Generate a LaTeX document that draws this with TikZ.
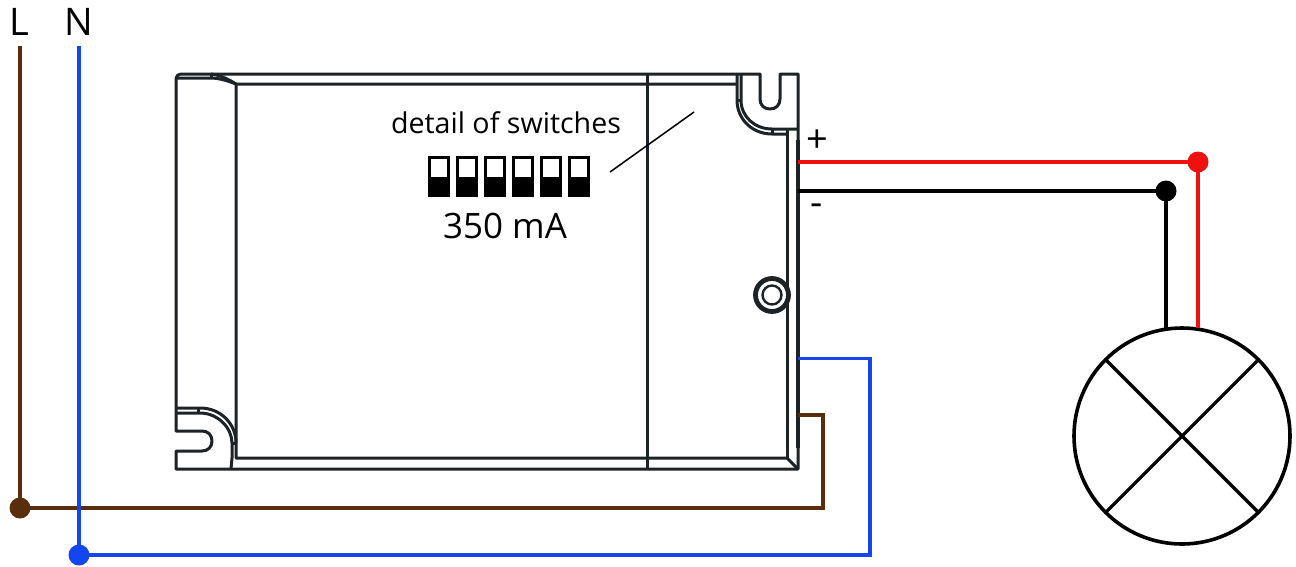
\documentclass[tikz,border=0pt]{standalone}
\usepackage{fontspec}
\setmainfont{Open Sans}
\usetikzlibrary{positioning}

\definecolor{wirebrown}{HTML}{5A2D0C}
\definecolor{wireblue}{HTML}{1446F0}
\definecolor{wirered}{HTML}{F01010}
\definecolor{casing}{HTML}{1C2226}

\tikzset{
        wire/.style={line width=3.2pt, line cap=butt, line join=miter},
        casingline/.style={draw=casing, line width=3pt, line join=round},
        joint/.style={circle, inner sep=0pt, outer sep=0pt, minimum size=21pt},
        terminal/.style={font=\fontsize{38}{38}\selectfont, anchor=base, inner sep=0pt},
        caption/.style={anchor=base, inner sep=0pt},
}

\begin{document}
\begin{tikzpicture}[x=1pt, y=-1pt]
        \useasboundingbox (0, 0) rectangle (1296, 566);

        % driver casing
        \draw [casingline]
               (176, 431) -- (176, 80) .. controls (176, 76) and (178, 74) .. (182, 74)
               -- (760, 74) -- (760, 99)
               .. controls (760, 105) and (764, 109) .. (770, 109)
               .. controls (776, 109) and (780, 105) .. (780, 99)
               -- (780, 74) -- (798, 74) -- (798, 469) -- (176, 469) -- (176, 451)
               -- (202, 451) .. controls (208, 451) and (212, 447) .. (212, 441)
               .. controls (212, 435) and (208, 431) .. (202, 431) -- cycle;
        \draw [casingline, line width=4pt] (798, 140) -- (798, 448);
        \draw [casingline] (176, 78) -- (210, 78) .. controls (220, 78) and (228, 81) .. (236, 84)
               -- (737, 84);
        \draw [casingline] (211, 74) .. controls (220, 75) and (228, 79) .. (236, 84);
        \draw [casingline] (211, 74) -- (211, 78);
        \draw [casingline] (236, 84) -- (236, 458) -- (787, 458) -- (798, 469);
        \draw [casingline] (787, 129) -- (787, 458);
        \draw [casingline] (647.5, 74) -- (647.5, 469);

        % left corner
        \draw [casingline] (176, 408) -- (200, 408) .. controls (221, 408) and (236, 424) .. (236, 443);
        \draw [casingline] (176, 413) -- (200, 413) .. controls (218, 413) and (232, 428) .. (232, 443)
               -- (232, 458) -- (231, 469);
        \draw [casingline] (198, 408) -- (198, 413);
        \draw [casingline] (232, 443) -- (236, 443);

        % right corner
        \draw [casingline] (737, 74) -- (737, 100) .. controls (737, 119) and (752, 134) .. (772, 134)
               -- (787, 134);
        \draw [casingline] (741, 74) -- (741, 100) .. controls (741, 117) and (755, 129) .. (772, 129)
               -- (798, 129);
        \draw [casingline] (737, 100) -- (741, 100);
        \draw [casingline] (772, 129) -- (772, 134);

        % screw
        \draw [casingline, line width=4.8pt] (772, 295) circle (16.5);
        \draw [casingline, line width=2.4pt] (772, 295) circle (9.5);

        % switches
        \foreach \pos in {0,...,5} {
                \fill (428.3 + 28 * \pos, 156) rectangle ++(22, 40.7);
                \fill [white] (431 + 28 * \pos, 158.7) rectangle ++(16.4, 18);
        }
        \draw [line width=1.5pt] (610, 172) -- (694, 112);

        \node [caption, font=\fontsize{28.6}{28.6}\selectfont] (detail) at (506, 133) {detail of switches};
        \node [caption, font=\fontsize{35}{35}\selectfont] (current) at (505, 238) {350 mA};

        % mains
        \node [terminal] (phase) at (19, 35) {L};
        \node [terminal] (neutral) at (79, 35) {N};
        \coordinate (phasetop) at (20, 46);
        \coordinate (neutraltop) at (79, 46);
        \node [joint, fill=wirebrown] (phasejoint) at (20, 508) {};
        \node [joint, fill=wireblue] (neutraljoint) at (79, 555) {};
        \coordinate (phasein) at (798, 415);
        \coordinate (neutralin) at (798, 358.5);

        \draw [wire, wirebrown] (phasetop) -- (phasejoint.center) -- (823, 508) -- (823, 415) -- (phasein);
        \draw [wire, wireblue] (neutraltop) -- (neutraljoint.center) -- (870, 555) -- (870, 358.5) -- (neutralin);

        % output
        \node [terminal] (plus) at (817, 152.5) {+};
        \node [terminal] (minus) at (817, 215) {-};
        \coordinate (plusout) at (798, 162);
        \coordinate (minusout) at (798, 191);
        \node [joint, fill=wirered] (redjoint) at (1198, 162) {};
        \node [joint, fill=black] (blackjoint) at (1166, 191) {};

        % lamp
        \node [circle, draw=black, line width=3.6pt, inner sep=0pt, outer sep=0pt, minimum size=216pt]
               (lamp) at (1182, 436) {};
        \draw [line width=3.2pt] (lamp.north west) -- (lamp.south east);
        \draw [line width=3.2pt] (lamp.north east) -- (lamp.south west);

        \draw [wire, wirered] (plusout) -- (redjoint.center) -- (lamp.north -| redjoint);
        \draw [wire, black] (minusout) -- (blackjoint.center) -- (lamp.north -| blackjoint);
\end{tikzpicture}
\end{document}
